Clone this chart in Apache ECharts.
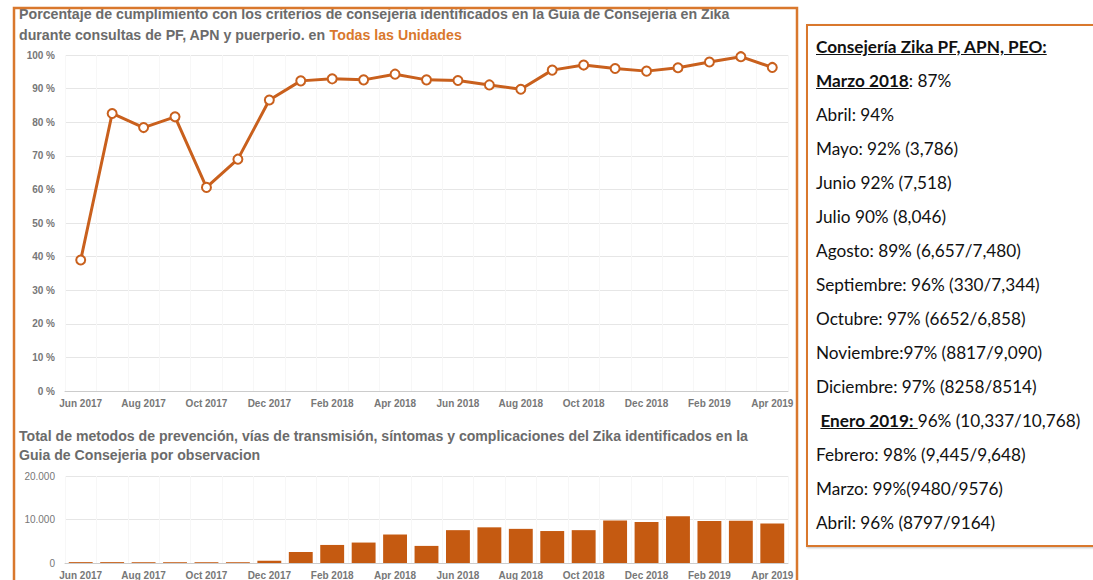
<!DOCTYPE html>
<html>
<head>
<meta charset="utf-8">
<script src="https://cdn.jsdelivr.net/npm/echarts@6/dist/echarts.min.js"></script>
<style>
  html, body { margin: 0; padding: 0; background: #fff; }
  #wrap { position: relative; width: 1093px; height: 580px; overflow: hidden; }
  #chart { position: absolute; left: 0; top: 0; width: 1093px; height: 580px; }
  #panel { position: absolute; left: 806px; top: 24px; width: 300px; height: 519px;
           border: 2.5px solid #d9782d; box-shadow: 1px 1px 2px rgba(0,0,0,0.25);
           font-family: Lato, "Open Sans", sans-serif; font-size: 17.2px; color: #111; background: #fff; }
  #panel div { position: absolute; left: 8px; white-space: nowrap; line-height: 20px; }
  #panel b { font-weight: bold; text-decoration: underline; }
</style>
</head>
<body>
<div id="wrap">
  <div id="chart"></div>
  <div id="panel"></div>
</div>
<script>
const months = ['Jun 2017','Jul 2017','Aug 2017','Sep 2017','Oct 2017','Nov 2017','Dec 2017',
  'Jan 2018','Feb 2018','Mar 2018','Apr 2018','May 2018','Jun 2018','Jul 2018','Aug 2018','Sep 2018',
  'Oct 2018','Nov 2018','Dec 2018','Jan 2019','Feb 2019','Mar 2019','Apr 2019'];
const pctValues = [39.0, 82.6, 78.4, 81.6, 60.6, 69.0, 86.6, 92.3, 92.9, 92.6, 94.3, 92.6,
  92.4, 91.1, 89.8, 95.5, 97.0, 96.0, 95.2, 96.2, 97.9, 99.5, 96.3];
const totalValues = [200, 200, 180, 180, 180, 180, 520, 2530, 4150, 4700, 6550, 3930,
  7550, 8200, 7850, 7350, 7550, 9780, 9400, 10750, 9630, 9700, 9100];
const pctTicks = [0, 100, 10];
const totalTicks = [0, 20000, 10000];
const title1Line1 = 'Porcentaje de cumplimiento con los criterios de consejeria identificados en la Guia de Consejeria en Zika';
const title1Line2 = 'durante consultas de PF, APN y puerperio. en ';
const title1Highlight = 'Todas las Unidades';
const title2 = 'Total de metodos de prevención, vías de transmisión, síntomas y complicaciones del Zika identificados en la\nGuia de Consejeria por observacion';
const panelLines = [
  '<b>Consejería Zika PF, APN, PEO:</b>',
  '<b>Marzo 2018</b>: 87%',
  'Abril: 94%',
  'Mayo: 92% (3,786)',
  'Junio 92% (7,518)',
  'Julio 90% (8,046)',
  'Agosto: 89% (6,657/7,480)',
  'Septiembre: 96% (330/7,344)',
  'Octubre: 97% (6652/6,858)',
  'Noviembre:97% (8817/9,090)',
  'Diciembre: 97% (8258/8514)',
  '&nbsp;<b>Enero 2019: </b>96% (10,337/10,768)',
  'Febrero: 98% (9,445/9,648)',
  'Marzo: 99%(9480/9576)',
  'Abril: 96% (8797/9164)'
];

const panel = document.getElementById('panel');
panelLines.forEach((t, i) => {
  const d = document.createElement('div');
  d.innerHTML = t;
  d.style.top = (11 + i * 34) + 'px';
  panel.appendChild(d);
});

const gray = '#777';
const lineColor = '#c9601d';
const barColor = '#c55a11';
const borderColor = '#d9782d';
const font = '"Liberation Sans", Arial, sans-serif';

function xAxisCfg(gridIndex) {
  return {
    type: 'category', gridIndex, data: months, boundaryGap: true,
    axisLine: { lineStyle: { color: '#ccc', width: 1 } },
    axisTick: { alignWithLabel: true, interval: 1, length: 4, lineStyle: { color: '#ccc' } },
    axisLabel: { interval: 1, color: gray, fontFamily: font, fontWeight: 'bold', fontSize: 10, margin: 7 },
    splitLine: { show: true, interval: 0, lineStyle: { color: '#f7f7f7' } }
  };
}

function thousands(v) {
  return String(v).replace(/\B(?=(\d{3})+(?!\d))/g, '.');
}

const chart = echarts.init(document.getElementById('chart'), null, { renderer: 'svg' });
chart.setOption({
  animation: false,
  textStyle: { fontFamily: font },
  title: [
    {
      left: 19, top: 3.5, padding: 0,
      text: title1Line1 + '\n' + title1Line2 + '{o|' + title1Highlight + '}',
      textStyle: { color: '#6b6b6b', fontSize: 14.2, fontWeight: 'bold', fontFamily: font, lineHeight: 21,
        rich: { o: { color: '#d9782d', fontSize: 14.2, fontWeight: 'bold', fontFamily: font, lineHeight: 21 } } }
    },
    {
      left: 19, top: 426, padding: 0,
      text: title2,
      textStyle: { color: '#6b6b6b', fontSize: 14.1, fontWeight: 'bold', fontFamily: font, lineHeight: 19.5 }
    }
  ],
  grid: [
    { left: 65, right: 305, top: 55, bottom: 189 },
    { left: 65, right: 305, top: 476, bottom: 14 }
  ],
  xAxis: [xAxisCfg(0), xAxisCfg(1)],
  yAxis: [
    { type: 'value', gridIndex: 0, min: pctTicks[0], max: pctTicks[1], interval: pctTicks[2],
      axisLine: { show: false }, axisTick: { show: false },
      axisLabel: { formatter: '{value} %', color: gray, fontSize: 10, fontWeight: 'bold', fontFamily: font, margin: 10 },
      splitLine: { lineStyle: { color: '#e6e6e6' } } },
    { type: 'value', gridIndex: 1, min: totalTicks[0], max: totalTicks[1], interval: totalTicks[2],
      axisLine: { show: false }, axisTick: { show: false },
      axisLabel: { formatter: thousands, color: gray, fontSize: 10, fontFamily: font, margin: 10 },
      splitLine: { lineStyle: { color: '#e6e6e6' } } }
  ],
  series: [
    { type: 'line', xAxisIndex: 0, yAxisIndex: 0, data: pctValues,
      symbol: 'circle', symbolSize: 9,
      lineStyle: { color: lineColor, width: 3 },
      itemStyle: { color: '#fff', borderColor: lineColor, borderWidth: 2 } },
    { type: 'bar', xAxisIndex: 1, yAxisIndex: 1, data: totalValues, barWidth: '76%',
      itemStyle: { color: barColor } }
  ],
  graphic: [
    { type: 'polyline', silent: true, z: 100,
      shape: { points: [[14, 600], [14, 8], [797, 8], [797, 600]] },
      style: { stroke: borderColor, lineWidth: 2.5, fill: null } }
  ]
});
</script>
</body>
</html>
